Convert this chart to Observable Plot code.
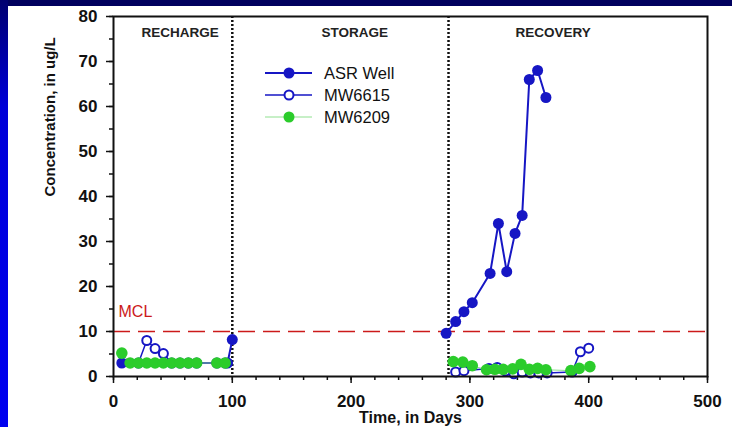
<!DOCTYPE html>
<html><head><meta charset="utf-8">
<script src="https://cdn.jsdelivr.net/npm/d3@7"></script>
<script src="https://cdn.jsdelivr.net/npm/@observablehq/plot@0.6"></script>
<style>
body{margin:0;background:#fff;width:732px;height:427px;overflow:hidden;position:relative;font-family:"Liberation Sans",Arial,sans-serif;}
#chart{position:absolute;left:0;top:0;}
#topband{position:absolute;left:0;top:0;width:732px;height:6px;background:#00005e;}
#leftband{position:absolute;left:0;top:0;width:8px;height:427px;background:linear-gradient(#000070,#0000d8 25%,#0000f0);}
#legend{position:absolute;left:264px;top:62px;}
.row{display:flex;align-items:center;height:22px;font-size:16.5px;color:#111;}
.row svg{margin-right:10px;}
</style></head><body>
<div id="chart"></div>
<div id="legend"></div>
<div id="topband"></div><div id="leftband"></div>
<script>
// ---- data ----
const xTicks = [0, 100, 200, 300, 400, 500];
const yTicks = [0, 10, 20, 30, 40, 50, 60, 70, 80];
const xLabel = "Time, in Days";
const yLabel = "Concentration, in ug/L";
const mcl = 10;
const phaseBounds = [100, 282];
const phaseNames = ["RECHARGE", "STORAGE", "RECOVERY"];
const phaseLabelDay = [56, 203, 370];

const asrDays = [7, 96, 100, 280, 288, 295, 302, 317, 324, 331, 338, 344, 350, 357, 364];
const asrConc = [3, 3, 8.2, 9.6, 12.2, 14.4, 16.4, 22.9, 34, 23.3, 31.8, 35.8, 66, 68, 62];

const mw6615Days = [21, 28, 35, 42, 49, 56, 63, 70, 87, 94, 288, 295, 316, 323, 330, 337, 344, 351, 358, 365, 386, 393, 400];
const mw6615Conc = [3, 8, 6.2, 5.1, 3, 3, 3, 3, 3, 3, 1, 1.3, 1.8, 2, 1.2, 0.6, 1, 0.8, 0.8, 0.8, 1, 5.5, 6.3];

const mw6209Days = [7, 14, 21, 28, 35, 42, 49, 56, 63, 70, 87, 94, 286, 294, 302, 314, 321, 328, 336, 343, 350, 357, 364, 385, 392, 401];
const mw6209Conc = [5.2, 3, 3, 3, 3, 3, 3, 3, 3, 3, 3, 3, 3.3, 3.2, 2.4, 1.5, 1.6, 1.6, 1.7, 2.7, 1.6, 1.8, 1.5, 1.3, 1.8, 2.2];

const seriesNames = ["ASR Well", "MW6615", "MW6209"];
const blue = "#1616c4", green = "#2bcc2b", lightGreen = "#8fe08f", red = "#cc1a1a";

const rows = (name, days, conc) => days.map((d, i) => ({series: name, day: d, conc: conc[i], phase: d < 200 ? "recharge" : "recovery"}));
const asr = rows(seriesNames[0], asrDays, asrConc);
const mw6615 = rows(seriesNames[1], mw6615Days, mw6615Conc);
const mw6209 = rows(seriesNames[2], mw6209Days, mw6209Conc);
const phases = phaseNames.map((n, i) => ({name: n, day: phaseLabelDay[i]}));

const chart = Plot.plot({
  width: 732, height: 427,
  marginLeft: 113, marginRight: 25, marginTop: 16, marginBottom: 51,
  x: {domain: [0, 500]},
  y: {domain: [0, 80]},
  style: {fontFamily: "'Liberation Sans', Arial, sans-serif", fontSize: "17px", fontWeight: "bold", color: "#111", background: "transparent", overflow: "visible"},
  marks: [
    Plot.axisY({ticks: d3.range(0, 81, 5), tickSize: 4, tickFormat: () => "", label: null, strokeWidth: 1.5}),
    Plot.axisY({ticks: yTicks, tickSize: 7, tickPadding: 9, label: null, strokeWidth: 1.5}),
    Plot.axisX({ticks: d3.range(0, 501, 20), tickSize: 4, tickFormat: () => "", label: null, strokeWidth: 1.5}),
    Plot.axisX({ticks: xTicks, tickSize: 7, tickPadding: 11, label: null, strokeWidth: 1.5}),
    Plot.text([yLabel], {frameAnchor: "left", dx: -63, rotate: -90, text: d => d, fontSize: 15, fontWeight: "bold", fill: "#111"}),
    Plot.text([xLabel], {frameAnchor: "bottom", dy: 41, lineAnchor: "middle", text: d => d, fontSize: 16, fontWeight: "bold", fill: "#111"}),
    Plot.ruleY([mcl], {stroke: red, strokeWidth: 1.5, strokeDasharray: "17,8"}),
    Plot.ruleX(phaseBounds, {stroke: "#111", strokeWidth: 2.5, strokeDasharray: "2,2"}),
    Plot.text(phases, {x: "day", frameAnchor: "top", dy: 16, lineAnchor: "middle", text: "name", fontSize: 13.5, fontWeight: "bold", fill: "#222", style: "letter-spacing:1.5px"}),
    Plot.text(["MCL"], {x: 0, y: mcl, dx: 5, dy: -15, textAnchor: "start", lineAnchor: "bottom", text: d => d, fill: red, fontWeight: "normal", fontSize: 16}),
    Plot.line(asr, {x: "day", y: "conc", z: "phase", stroke: blue, strokeWidth: 2}),
    Plot.line(mw6615, {x: "day", y: "conc", z: "phase", stroke: blue, strokeWidth: 1.5}),
    Plot.line(mw6209, {x: "day", y: "conc", z: "phase", stroke: lightGreen, strokeWidth: 1}),
    Plot.dot(asr, {x: "day", y: "conc", r: 5.5, fill: blue}),
    Plot.dot(mw6615, {x: "day", y: "conc", r: 4.5, fill: "white", stroke: blue, strokeWidth: 2}),
    Plot.dot(mw6209, {x: "day", y: "conc", r: 5.8, fill: green}),
    Plot.frame({stroke: "#111", strokeWidth: 2})
  ]
});
document.getElementById("chart").append(chart);

// legend
const legendStyles = [
  {line: blue, lw: 2, fill: blue, stroke: "none", r: 5.5},
  {line: blue, lw: 1.5, fill: "white", stroke: blue, r: 4.5},
  {line: lightGreen, lw: 1, fill: green, stroke: "none", r: 5.5}
];
const legend = document.getElementById("legend");
seriesNames.forEach((n, i) => {
  const s = legendStyles[i];
  const row = document.createElement("div");
  row.className = "row";
  row.innerHTML = `<svg width="50" height="14"><line x1="1" x2="48" y1="7" y2="7" stroke="${s.line}" stroke-width="${s.lw}"/><circle cx="25" cy="7" r="${s.r}" fill="${s.fill}" stroke="${s.stroke}" stroke-width="2"/></svg><span>${n}</span>`;
  legend.append(row);
});
</script>
</body></html>
